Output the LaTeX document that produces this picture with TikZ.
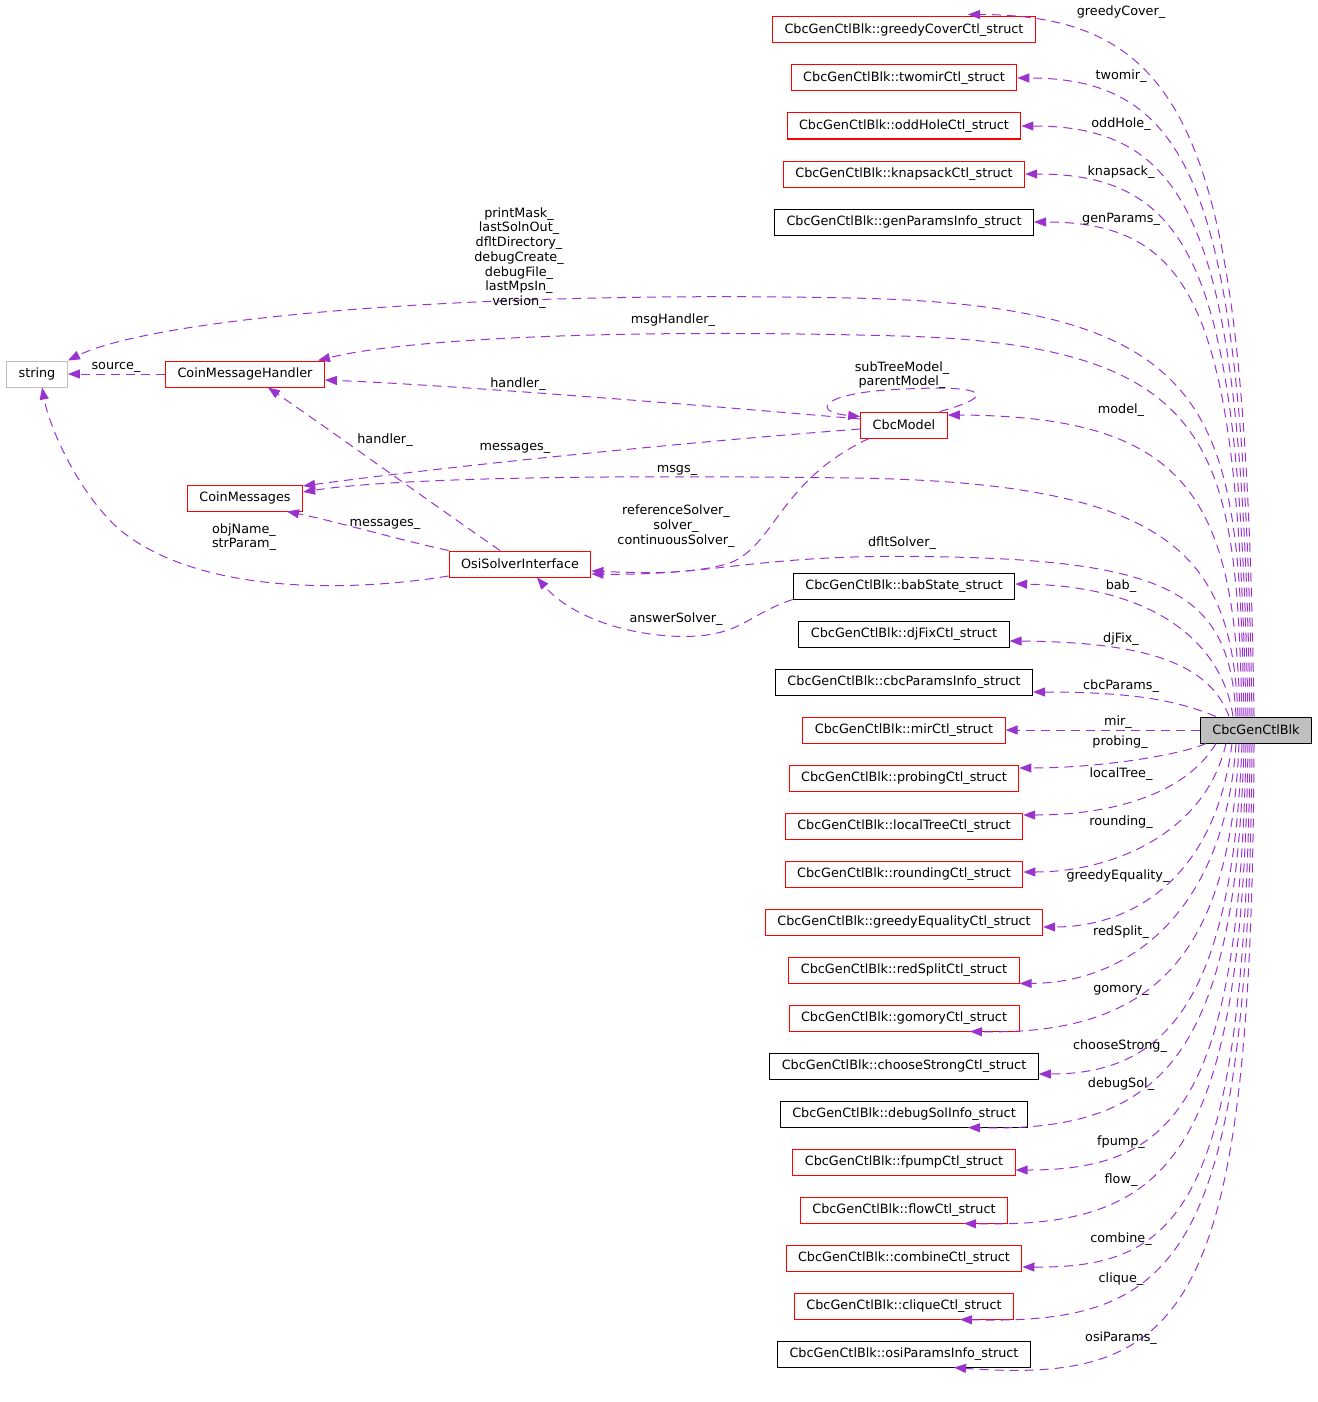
\documentclass[tikz,border=0pt]{standalone}
\usepackage{fontspec}
\setmainfont{DejaVu Sans}
\usetikzlibrary{arrows.meta}
\definecolor{usecol}{HTML}{9A32CD}
\definecolor{grey75}{HTML}{BFBFBF}

\begin{document}
\begin{tikzpicture}[x=1pt,y=-1pt,
    font=\fontsize{12.8}{14.7}\selectfont,
    box/.style={draw=red,line width=1pt,minimum height=26pt,inner xsep=12pt,inner ysep=0pt},
    boxk/.style={box,draw=black},
    ext/.style={box,draw=grey75},
    main/.style={box,draw=black,fill=grey75},
    uses/.style={draw=usecol,line width=1pt,dash pattern=on 9pt off 6pt,-{Triangle[length=12pt,width=9pt]}},
    lbl/.style={inner sep=0pt,align=center}]
    \useasboundingbox (0,0) rectangle (1317,1402);

    \node[main] (gencb) at (1256,730) {CbcGenCtlBlk};

    \node[box] (greedyCover) at (904,30) {CbcGenCtlBlk::greedyCoverCtl\_struct};
    \node[box] (twomir) at (904,78) {CbcGenCtlBlk::twomirCtl\_struct};
    \node[box] (oddHole) at (904,126) {CbcGenCtlBlk::oddHoleCtl\_struct};
    \node[box] (knapsack) at (904,174) {CbcGenCtlBlk::knapsackCtl\_struct};
    \node[boxk] (genParams) at (904,222) {CbcGenCtlBlk::genParamsInfo\_struct};
    \node[ext] (str) at (37,374) {string};
    \node[box] (cmh) at (245,374) {CoinMessageHandler};
    \node[box] (model) at (904,425) {CbcModel};
    \node[box] (cmsg) at (245,498) {CoinMessages};
    \node[box] (osi) at (520,564) {OsiSolverInterface};
    \node[boxk] (babState) at (904,586) {CbcGenCtlBlk::babState\_struct};
    \node[boxk] (djFix) at (904,634) {CbcGenCtlBlk::djFixCtl\_struct};
    \node[boxk] (cbcParams) at (904,682) {CbcGenCtlBlk::cbcParamsInfo\_struct};
    \node[box] (mir) at (904,730) {CbcGenCtlBlk::mirCtl\_struct};
    \node[box] (probing) at (904,778) {CbcGenCtlBlk::probingCtl\_struct};
    \node[box] (localTree) at (904,826) {CbcGenCtlBlk::localTreeCtl\_struct};
    \node[box] (rounding) at (904,874) {CbcGenCtlBlk::roundingCtl\_struct};
    \node[box] (greedyEq) at (904,922) {CbcGenCtlBlk::greedyEqualityCtl\_struct};
    \node[box] (redSplit) at (904,970) {CbcGenCtlBlk::redSplitCtl\_struct};
    \node[box] (gomory) at (904,1018) {CbcGenCtlBlk::gomoryCtl\_struct};
    \node[boxk] (chooseStrong) at (904,1066) {CbcGenCtlBlk::chooseStrongCtl\_struct};
    \node[boxk] (debugSol) at (904,1114) {CbcGenCtlBlk::debugSolInfo\_struct};
    \node[box] (fpump) at (904,1162) {CbcGenCtlBlk::fpumpCtl\_struct};
    \node[box] (flow) at (904,1210) {CbcGenCtlBlk::flowCtl\_struct};
    \node[box] (combine) at (904,1258) {CbcGenCtlBlk::combineCtl\_struct};
    \node[box] (clique) at (904,1306) {CbcGenCtlBlk::cliqueCtl\_struct};
    \node[boxk] (osiParams) at (904,1354) {CbcGenCtlBlk::osiParamsInfo\_struct};

    \draw[uses] ([xshift=-2pt]gencb.north) .. controls (1246,155) and (1200,15) .. ([xshift=64pt,yshift=2pt]greedyCover.north);
    \draw[uses] ([xshift=-4pt]gencb.north) .. controls (1244,206) and (1200,78) .. (twomir.east);
    \draw[uses] ([xshift=-6pt]gencb.north) .. controls (1242,244) and (1200,126) .. (oddHole.east);
    \draw[uses] ([xshift=-8pt]gencb.north) .. controls (1240,283) and (1200,174) .. (knapsack.east);
    \draw[uses] ([xshift=-10pt]gencb.north) .. controls (1238,321) and (1200,222) .. (genParams.east);
    \draw[uses] ([xshift=-12pt]gencb.north) .. controls (1238,420) and (1230,305) .. (850,298) .. controls (450,290) and (150,320) .. (str.north east);
    \draw[uses] ([xshift=-14pt]gencb.north) .. controls (1236,450) and (1220,345) .. (900,336) .. controls (600,328) and (400,340) .. ([xshift=-7pt]cmh.north east);
    \draw[uses] ([xshift=-16pt]gencb.north) .. controls (1234,500) and (1190,416) .. ([yshift=10pt]model.east);
    \draw[uses] ([xshift=-18pt]gencb.north) .. controls (1232,560) and (1180,482) .. (850,478) .. controls (550,474) and (380,480) .. ([yshift=6pt]cmsg.east);
    \draw[uses] ([xshift=-20pt]gencb.north) .. controls (1230,600) and (1180,562) .. (950,557) .. controls (760,552) and (720,576) .. ([yshift=-10pt]osi.east);
    \draw[uses] ([xshift=-23pt]gencb.north) .. controls (1222,640) and (1150,586) .. ([yshift=2pt]babState.east);
    \draw[uses] ([xshift=-27pt]gencb.north) .. controls (1210,665) and (1150,642) .. ([yshift=-7pt]djFix.east);
    \draw[uses] ([xshift=-40pt]gencb.north) .. controls (1180,702) and (1140,692) .. ([yshift=-10pt]cbcParams.east);
    \draw[uses] (gencb.west) -- (mir.east);
    \draw[uses] ([xshift=-50pt]gencb.south) .. controls (1180,755) and (1100,768) .. ([yshift=10pt]probing.east);
    \draw[uses] ([xshift=-40pt]gencb.south) .. controls (1185,795) and (1110,815) .. ([yshift=11pt]localTree.east);
    \draw[uses] ([xshift=-30pt]gencb.south) .. controls (1205,835) and (1110,872) .. ([yshift=2pt]rounding.east);
    \draw[uses] ([xshift=-24pt]gencb.south) .. controls (1215,880) and (1130,927) .. ([yshift=-5pt]greedyEq.east);
    \draw[uses] ([xshift=-20pt]gencb.south) .. controls (1225,910) and (1130,983) .. (redSplit.south east);
    \draw[uses] ([xshift=-17pt]gencb.south) .. controls (1230,960) and (1150,1035) .. ([xshift=66pt]gomory.south);
    \draw[uses] ([xshift=-14pt]gencb.south) .. controls (1232,1010) and (1160,1074) .. ([yshift=-8pt]chooseStrong.east);
    \draw[uses] ([xshift=-12pt]gencb.south) .. controls (1236,1060) and (1160,1132) .. ([xshift=64pt]debugSol.south);
    \draw[uses] ([xshift=-10pt]gencb.south) .. controls (1240,1110) and (1170,1170) .. ([yshift=-8pt]fpump.east);
    \draw[uses] ([xshift=-8pt]gencb.south) .. controls (1243,1160) and (1170,1228) .. ([xshift=60pt]flow.south);
    \draw[uses] ([xshift=-6pt]gencb.south) .. controls (1246,1210) and (1180,1268) .. ([yshift=-9pt]combine.east);
    \draw[uses] ([xshift=-4pt]gencb.south) .. controls (1249,1260) and (1180,1325) .. ([xshift=56pt]clique.south);
    \draw[uses] ([xshift=-2pt]gencb.south) .. controls (1252,1310) and (1190,1385) .. ([xshift=50pt]osiParams.south);

    \draw[uses] (cmh.west) -- (str.east);
    \draw[uses] ([yshift=6pt]model.west) .. controls (700,405) and (450,385) .. ([yshift=-6pt]cmh.east);
    \draw[uses] ([xshift=-20pt]osi.north) .. controls (420,495) and (330,430) .. ([xshift=23pt]cmh.south);
    \draw[uses] ([yshift=-4pt]model.west) .. controls (650,445) and (420,470) .. ([yshift=12pt]cmsg.east);
    \draw[uses] (osi.north west) .. controls (400,540) and (330,520) .. ([xshift=42pt]cmsg.south);
    \draw[uses] ([yshift=-12pt]osi.west) .. controls (350,592) and (200,595) .. (120,530) .. controls (80,495) and (50,430) .. ([xshift=5pt]str.south);
    \draw[uses] ([xshift=-35pt]model.south) .. controls (780,480) and (775,545) .. (730,563) .. controls (690,575) and (640,573) .. ([yshift=-7pt]osi.east);
    \draw[uses] (babState.south west) .. controls (745,615) and (740,640) .. (670,636) .. controls (610,632) and (565,610) .. ([xshift=17pt]osi.south);
    \draw[uses] ([xshift=-8pt]model.north east) .. controls (1000,395) and (985,385) .. (905,389) .. controls (820,392) and (810,412) .. ([yshift=-5pt]model.north west);

    \node[lbl] (lgreedyCover) at (1121,12) {greedyCover\_};
    \node[lbl] (ltwomir) at (1121,76) {twomir\_};
    \node[lbl] (loddHole) at (1121,124) {oddHole\_};
    \node[lbl] (lknapsack) at (1121,172) {knapsack\_};
    \node[lbl] (lgenParams) at (1121,219) {genParams\_};
    \node[lbl] (lstr) at (519,258) {printMask\_\\lastSolnOut\_\\dfltDirectory\_\\debugCreate\_\\debugFile\_\\lastMpsIn\_\\version\_};
    \node[lbl] (lmsgHandler) at (673,320) {msgHandler\_};
    \node[lbl] (lsource) at (116,367) {source\_};
    \node[lbl] (lself) at (902,375) {subTreeModel\_\\parentModel\_};
    \node[lbl] (lhandlerA) at (518,384) {handler\_};
    \node[lbl] (lmodel) at (1121,410) {model\_};
    \node[lbl] (lhandlerB) at (385,440) {handler\_};
    \node[lbl] (lmessagesA) at (515,448) {messages\_};
    \node[lbl] (lmsgs) at (677,470) {msgs\_};
    \node[lbl] (lmessagesB) at (385,524) {messages\_};
    \node[lbl] (lobjName) at (244,537) {objName\_\\strParam\_};
    \node[lbl] (lsolver) at (676,526) {referenceSolver\_\\solver\_\\continuousSolver\_};
    \node[lbl] (ldfltSolver) at (902,543) {dfltSolver\_};
    \node[lbl] (lbab) at (1121,586) {bab\_};
    \node[lbl] (lanswer) at (676,619) {answerSolver\_};
    \node[lbl] (ldjFix) at (1121,639) {djFix\_};
    \node[lbl] (lcbcParams) at (1121,686) {cbcParams\_};
    \node[lbl] (lmir) at (1118,722) {mir\_};
    \node[lbl] (lprobing) at (1120,742) {probing\_};
    \node[lbl] (llocalTree) at (1121,774) {localTree\_};
    \node[lbl] (lrounding) at (1121,822) {rounding\_};
    \node[lbl] (lgreedyEq) at (1118,876) {greedyEquality\_};
    \node[lbl] (lredSplit) at (1121,932) {redSplit\_};
    \node[lbl] (lgomory) at (1121,990) {gomory\_};
    \node[lbl] (lchooseStrong) at (1120,1046) {chooseStrong\_};
    \node[lbl] (ldebugSol) at (1121,1084) {debugSol\_};
    \node[lbl] (lfpump) at (1121,1142) {fpump\_};
    \node[lbl] (lflow) at (1121,1180) {flow\_};
    \node[lbl] (lcombine) at (1121,1239) {combine\_};
    \node[lbl] (lclique) at (1121,1279) {clique\_};
    \node[lbl] (losiParams) at (1121,1338) {osiParams\_};
\end{tikzpicture}
\end{document}
